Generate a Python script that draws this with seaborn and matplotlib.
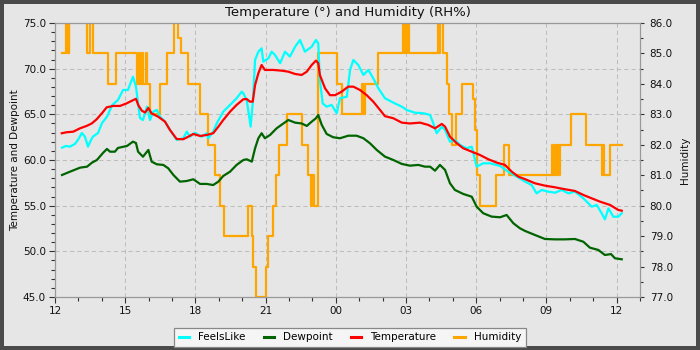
import numpy as np
import pandas as pd
import matplotlib
matplotlib.use("Agg")
import matplotlib.pyplot as plt
import matplotlib.dates as mdates
from matplotlib.ticker import MultipleLocator, FormatStrFormatter
from matplotlib.lines import Line2D
import seaborn as sns

# ---------------- data (hours after 12:00 on day 1) ----------------
temp_h = [0.29,0.50,0.78,1.07,1.35,1.57,1.78,2.00,2.21,2.49,2.78,3.06,3.35,3.46,3.56,3.71,3.85,3.99,4.13,4.41,
          4.70,4.91,5.20,5.48,5.70,5.91,6.20,6.48,6.76,6.98,7.19,7.48,7.76,8.05,8.19,8.33,8.45,8.55,8.69,8.83,
          8.97,9.33,9.69,9.97,10.26,10.54,10.76,10.97,11.15,11.25,11.32,11.54,11.75,11.97,12.25,12.53,12.75,13.03,13.32,13.60,
          13.89,14.10,14.46,14.82,15.17,15.60,15.95,16.24,16.53,16.67,16.88,17.17,17.45,17.81,18.16,18.52,18.88,19.23,19.52,19.80,
          20.09,20.51,20.94,21.37,21.79,22.22,22.58,22.94,23.29,23.72,24.07,24.22]
temp_v = [62.93,63.04,63.10,63.47,63.73,64.00,64.46,65.10,65.77,65.92,65.92,66.20,66.57,66.70,66.00,65.40,65.20,65.70,65.10,64.74,
          64.20,63.30,62.30,62.27,62.56,62.85,62.63,62.74,62.93,63.65,64.38,65.29,66.03,66.65,66.68,66.39,66.39,68.20,69.50,70.40,
          69.86,69.86,69.78,69.67,69.42,69.31,69.67,70.40,70.88,70.60,69.30,67.85,67.10,67.10,67.48,68.03,68.03,67.67,67.10,66.39,
          65.48,64.80,64.57,64.09,64.00,64.09,63.84,63.47,63.95,63.65,62.55,61.83,61.28,60.91,60.55,60.08,59.71,59.46,58.72,58.18,
          57.90,57.45,57.19,57.01,56.80,56.61,56.17,55.80,55.44,55.08,54.53,54.45]

feels_h = [0.30,0.47,0.64,0.85,0.98,1.15,1.28,1.41,1.54,1.62,1.84,2.01,2.22,2.44,2.69,2.91,3.12,3.33,3.46,3.55,
           3.63,3.76,3.93,4.06,4.20,4.35,4.49,4.70,4.91,5.20,5.48,5.63,5.77,5.98,6.27,6.48,6.55,6.76,6.91,7.19,
           7.48,7.76,7.98,8.05,8.19,8.30,8.36,8.45,8.55,8.69,8.83,8.90,9.12,9.26,9.40,9.62,9.83,10.04,10.26,10.47,
           10.68,10.97,11.15,11.25,11.32,11.44,11.61,11.82,12.04,12.18,12.47,12.61,12.75,12.96,13.18,13.39,13.60,13.82,14.10,14.46,
           14.82,15.03,15.38,15.74,16.03,16.17,16.31,16.53,16.67,16.88,17.09,17.31,17.59,17.81,18.02,18.30,18.59,19.02,19.37,19.73,
           20.09,20.37,20.58,20.80,21.08,21.37,21.65,21.94,22.22,22.58,22.94,23.15,23.36,23.50,23.65,23.86,24.07,24.22]
feels_v = [61.35,61.54,61.46,61.76,62.20,62.96,62.55,61.46,62.20,62.55,62.96,64.05,64.74,66.00,66.57,67.67,67.67,69.12,68.03,66.24,
           64.60,64.38,65.84,64.38,65.29,65.48,64.74,64.20,63.30,62.20,62.38,63.10,62.55,62.99,62.55,62.92,62.38,63.10,64.00,65.29,
           66.03,66.76,67.48,67.30,66.57,64.74,63.65,66.20,70.95,71.86,72.23,70.77,71.14,71.86,71.50,70.60,71.86,71.32,72.40,73.14,
           71.86,72.40,73.14,72.78,68.76,66.20,65.84,66.03,65.12,66.76,66.93,69.86,70.95,70.41,69.31,69.86,68.95,67.85,66.76,66.28,
           65.84,65.48,65.18,65.12,64.93,64.00,62.93,63.65,63.29,62.00,62.20,61.65,61.28,61.46,59.27,59.64,59.64,59.35,58.72,58.18,
           57.63,57.26,56.35,56.72,56.53,56.42,56.72,56.35,56.53,55.80,54.89,55.08,54.17,53.50,54.70,53.79,53.79,54.17]

dew_h = [0.30,0.64,1.07,1.37,1.58,1.79,2.05,2.22,2.35,2.56,2.69,3.08,3.33,3.46,3.55,3.76,3.93,3.99,4.13,4.35,
         4.63,4.84,5.06,5.34,5.63,5.91,6.20,6.48,6.76,6.98,7.19,7.48,7.76,8.05,8.19,8.41,8.55,8.69,8.83,8.97,
         9.19,9.47,9.76,9.97,10.26,10.54,10.76,10.97,11.15,11.25,11.40,11.61,11.89,12.18,12.53,12.89,13.18,13.46,13.75,14.10,
         14.46,14.82,15.17,15.53,15.81,16.03,16.24,16.45,16.67,16.88,17.09,17.45,17.81,18.02,18.30,18.66,19.02,19.30,19.59,19.87,
         20.09,20.51,20.94,21.37,21.79,22.22,22.58,22.86,23.22,23.50,23.76,23.93,24.22]
dew_v = [58.36,58.72,59.16,59.27,59.71,60.00,60.77,61.21,60.91,60.91,61.32,61.54,62.01,61.86,60.91,60.36,60.91,61.10,59.82,59.53,
         59.46,59.09,58.36,57.63,57.70,57.89,57.38,57.38,57.26,57.63,58.25,58.72,59.46,60.00,60.08,59.82,61.28,62.38,62.93,62.38,
         62.74,63.47,64.00,64.38,64.09,64.00,63.73,64.20,64.57,64.93,63.84,62.85,62.49,62.38,62.66,62.66,62.38,61.83,61.10,60.37,
         60.00,59.57,59.38,59.46,59.27,59.27,58.83,59.46,58.91,57.45,56.72,56.28,55.98,54.89,54.17,53.80,53.73,53.98,53.07,52.52,
         52.23,51.79,51.35,51.31,51.31,51.35,51.05,50.40,50.15,49.60,49.70,49.24,49.13]

hum_h = [0.28,0.47,0.51,0.54,0.58,0.61,1.37,1.50,1.62,2.26,2.59,3.50,3.59,3.65,3.72,3.78,3.89,3.95,4.06,4.49,
         4.77,5.10,5.27,5.37,5.67,6.20,6.53,6.84,7.05,7.22,8.26,8.41,8.47,8.57,8.60,9.00,9.09,9.33,9.43,9.57,
         9.90,10.57,10.80,10.94,11.00,11.07,11.23,12.04,12.28,13.12,13.15,13.18,13.21,13.25,13.80,14.87,14.91,14.96,15.02,15.04,
         15.13,16.37,16.41,16.45,16.58,16.75,16.84,16.97,17.14,17.39,17.86,17.95,18.02,18.16,18.85,19.19,19.40,21.24,21.28,21.37,
         21.41,21.47,21.54,21.58,22.05,22.69,23.38,23.42,23.46,23.72,24.25]
hum_v = [85,86.5,85,86.5,85,86.5,85,86.5,85,84,85,84,85,84,85,84,85,84,83,84,
         85,86.5,85.5,85,84,83,82,81,80,79,80,79,78,77.5,77,78,79,80,81,82,
         83,82,81,80,81,80,85,84,83,84,83,84,83,84,85,86.5,85,86.5,85,86.5,
         85,86.5,85,86.5,85,84,83,82,83,84,83.5,82.5,81,80,81,82,81,82,81,82,
         81,82,81,82,83,82,81,82,81,82,82]

series_names = ["FeelsLike", "Dewpoint", "Temperature", "Humidity"]
series_colors = ["#00ffff", "#006400", "#ff0000", "#ffa500"]

# ---------------- helpers ----------------
base = pd.Timestamp("2024-05-01 12:00")
def to_time(h):
    return base + pd.to_timedelta(np.asarray(h), unit="h")

BG = "#e6e6e6"
FS = 7.5
plt.rcParams["font.family"] = ["DejaVu Sans"]

fig = plt.figure(figsize=(7, 3.5), dpi=100, facecolor=BG)
fig.patch.set_edgecolor("#4a4a4a")
fig.patch.set_linewidth(4.5)

rect = [55/700, 53/350, 585/700, 274/350]
ax_bg = fig.add_axes(rect, zorder=0, facecolor=BG)
ax2 = fig.add_axes(rect, zorder=1, sharex=ax_bg)
ax = fig.add_axes(rect, zorder=2, sharex=ax_bg)
ax2.patch.set_visible(False)
ax.patch.set_visible(False)

LW = 1.6
sns.lineplot(x=to_time(hum_h), y=hum_v, ax=ax2, color=series_colors[3], linewidth=LW,
             drawstyle="steps-post", estimator=None, sort=False, legend=False)
sns.lineplot(x=to_time(feels_h), y=feels_v, ax=ax, color=series_colors[0], linewidth=LW,
             estimator=None, sort=False, legend=False)
sns.lineplot(x=to_time(dew_h), y=dew_v, ax=ax, color=series_colors[1], linewidth=LW,
             estimator=None, sort=False, legend=False)
sns.lineplot(x=to_time(temp_h), y=temp_v, ax=ax, color=series_colors[2], linewidth=LW,
             estimator=None, sort=False, legend=False)

# limits
ax.set_xlim(base, base + pd.Timedelta(hours=25))
for a in (ax, ax_bg):
    a.set_ylim(45, 75)
ax2.set_ylim(77, 86)

# background axes: grid only
ax_bg.yaxis.set_major_locator(MultipleLocator(5))
ax_bg.grid(True, which="major", color="#bdbdbd", linestyle=(0, (4, 3)), linewidth=0.75)
ax_bg.tick_params(left=False, bottom=False, labelleft=False, labelbottom=False)
for s in ax_bg.spines.values():
    s.set_visible(False)

# x axis
ax.xaxis.set_major_locator(mdates.HourLocator(byhour=range(0, 24, 3)))
ax.xaxis.set_minor_locator(mdates.HourLocator())
ax.xaxis.set_major_formatter(mdates.DateFormatter("%H"))

# left axis
ax.yaxis.set_major_locator(MultipleLocator(5))
ax.yaxis.set_minor_locator(MultipleLocator(1))
ax.yaxis.set_major_formatter(FormatStrFormatter("%.1f"))
ax.set_ylabel("Temperature and Dewpoint", fontsize=FS, color="#111", labelpad=2)
ax.set_xlabel("")
ax.tick_params(axis="both", which="major", direction="out", length=4.5, width=0.8,
               color="#333", labelsize=FS, labelcolor="#111", pad=2)
ax.tick_params(axis="both", which="minor", direction="out", length=2.8, width=0.8, color="#333")
for s in ax.spines.values():
    s.set_color("#999999")
    s.set_linewidth(0.9)

# right axis
ax2.yaxis.tick_right()
ax2.yaxis.set_label_position("right")
ax2.yaxis.set_major_locator(MultipleLocator(1))
ax2.yaxis.set_minor_locator(MultipleLocator(0.5))
ax2.yaxis.set_major_formatter(FormatStrFormatter("%.1f"))
ax2.set_ylabel("Humidity", fontsize=FS, color="#111", labelpad=5)
ax2.set_xlabel("")
ax2.tick_params(axis="y", which="major", direction="out", length=3, width=0.8,
                color="#333", labelsize=FS, labelcolor="#111", pad=4)
ax2.tick_params(axis="y", which="minor", direction="out", length=2, width=0.8, color="#333")
ax2.tick_params(axis="x", which="both", bottom=False, labelbottom=False)
for s in ax2.spines.values():
    s.set_visible(False)

ax.set_title("Temperature (°) and Humidity (RH%)", fontsize=9.5, color="#111", pad=5)

handles = [Line2D([0], [0], color=c, linewidth=2.2) for c in series_colors]
leg = fig.legend(handles, series_names, loc="lower center", bbox_to_anchor=(0.5, 3/350),
                 ncol=4, fontsize=FS, frameon=True, fancybox=False, borderaxespad=0,
                 handlelength=1.0, handletextpad=0.9, columnspacing=1.7, borderpad=0.45)
leg.get_frame().set_facecolor("#f5f5f5")
leg.get_frame().set_edgecolor("#888888")
leg.get_frame().set_linewidth(0.9)
leg.get_frame().set_alpha(1)

fig.savefig("out.png", dpi=100, facecolor=BG, edgecolor=fig.patch.get_edgecolor())
